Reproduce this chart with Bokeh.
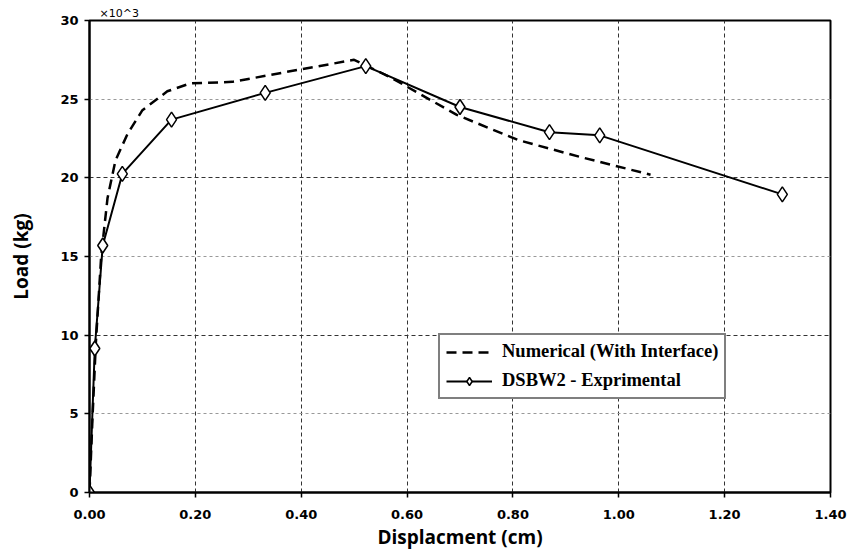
from bokeh.plotting import figure
from bokeh.models import (Range1d, FixedTicker, NumeralTickFormatter,
                          Grid, Legend, LegendItem)
from bokeh.embed import file_html
from bokeh.resources import INLINE

# Numerical (With Interface) - dashed curve (displacement cm, load x10^3 kg)
num_x = [0.0, 0.006, 0.012, 0.022, 0.034, 0.049, 0.072, 0.10, 0.147, 0.19, 0.27, 0.40, 0.50,
         0.568, 0.694, 0.81, 0.93, 1.06]
num_y = [0.0, 5.0, 9.5, 15.0, 18.7, 21.1, 22.8, 24.3, 25.5, 26.0, 26.1, 26.9, 27.5,
         26.4, 24.0, 22.4, 21.3, 20.2]

# DSBW2 - Exprimental
exp_x = [0.0, 0.010, 0.025, 0.062, 0.155, 0.332, 0.522, 0.700, 0.869, 0.964, 1.309]
exp_y = [0.0, 9.15, 15.7, 20.25, 23.7, 25.4, 27.1, 24.5, 22.9, 22.7, 18.95]

x_ticks = [0.0, 0.2, 0.4, 0.6, 0.8, 1.0, 1.2, 1.4]
y_ticks = [0, 5, 10, 15, 20, 25, 30]

p = figure(width=849, height=553, output_backend="svg", toolbar_location=None,
           x_range=Range1d(0, 1.4), y_range=Range1d(0, 30),
           min_border_left=89, min_border_right=19, min_border_top=20, min_border_bottom=61)
p.background_fill_color = "white"
p.border_fill_color = "white"
p.outline_line_color = "black"
p.outline_line_width = 2

# scale-factor note above the axis
p.title.text = "\u00d710^3"
p.title.align = "left"
p.title.offset = 10
p.title.standoff = 2
p.title.text_font = "DejaVu Sans"
p.title.text_font_style = "normal"
p.title.text_font_size = "11px"
p.title.text_color = "black"

# axes
p.xaxis.ticker = FixedTicker(ticks=x_ticks)
p.yaxis.ticker = FixedTicker(ticks=y_ticks)
p.xaxis.formatter = NumeralTickFormatter(format="0.00")
for ax in (p.xaxis[0], p.yaxis[0]):
    ax.axis_line_width = 2
    ax.axis_line_color = "black"
    ax.major_tick_line_color = "black"
    ax.major_tick_line_width = 1.5
    ax.major_tick_out = 5
    ax.major_tick_in = 0
    ax.minor_tick_line_color = None
    ax.major_label_text_font = "DejaVu Sans"
    ax.major_label_text_font_style = "bold"
    ax.major_label_text_font_size = "13px"
    ax.major_label_text_color = "black"
    ax.axis_label_text_font = "Open Sans"
    ax.axis_label_text_font_style = "bold"
    ax.axis_label_text_font_size = "19px"
    ax.axis_label_text_color = "black"
p.xaxis.axis_label = "Displacment (cm)"
p.yaxis.axis_label = "Load (kg)"
p.xaxis.major_label_standoff = 12
p.xaxis.axis_label_standoff = 2
p.yaxis.major_label_standoff = 6
p.yaxis.axis_label_standoff = 23

# grids
p.xgrid.ticker = FixedTicker(ticks=[0.2, 0.4, 0.6, 0.8, 1.0, 1.2])
p.xgrid.grid_line_color = "#333333"
p.xgrid.grid_line_dash = "4 3"
p.xgrid.grid_line_width = 1
p.ygrid.ticker = FixedTicker(ticks=[10, 20])
p.ygrid.grid_line_color = "#333333"
p.ygrid.grid_line_dash = "4 3"
p.ygrid.grid_line_width = 1
g2 = Grid(dimension=1, ticker=FixedTicker(ticks=[5, 15, 25]),
          grid_line_color="#999999", grid_line_dash="3 3", grid_line_width=1)
p.add_layout(g2)

r_num = p.line(num_x, num_y, line_color="black", line_width=2.5, line_dash="10 6")
r_exp_l = p.line(exp_x, exp_y, line_color="black", line_width=2)
r_exp_m = p.scatter(exp_x, exp_y, marker="diamond", size=15, fill_color="white",
                    line_color="black", line_width=1.5)

legend = Legend(items=[LegendItem(label="Numerical (With Interface)", renderers=[r_num]),
                       LegendItem(label="DSBW2 - Exprimental", renderers=[r_exp_l, r_exp_m])],
                location=(349, 93), margin=0, padding=6, spacing=8,
                glyph_width=46, glyph_height=20, label_height=20, label_standoff=10,
                label_text_font="Liberation Serif", label_text_font_style="bold",
                label_text_font_size="18.5px", label_text_color="black",
                border_line_color="black", border_line_width=2,
                background_fill_color="white", background_fill_alpha=1.0)
p.add_layout(legend, "center")

open("out.html", "w").write(file_html(p, INLINE))
